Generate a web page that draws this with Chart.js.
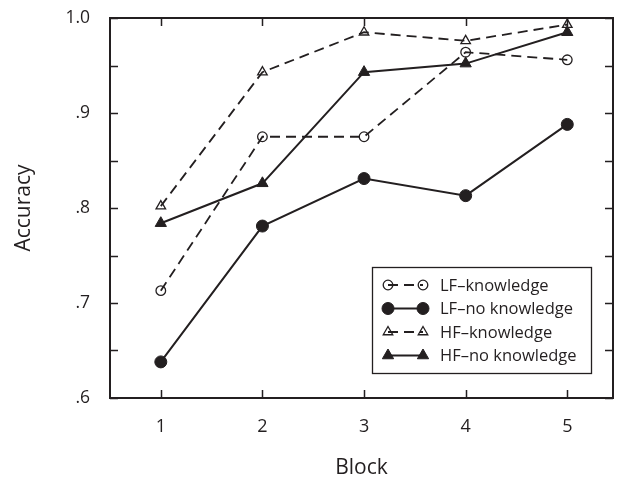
<!DOCTYPE html>
<html>
<head>
<meta charset="utf-8">
<script src="https://cdn.jsdelivr.net/npm/chart.js@4/dist/chart.umd.min.js"></script>
<style>
  html, body { margin: 0; padding: 0; background: #fff; }
</style>
</head>
<body>
<canvas id="myChart" width="622" height="479"></canvas>
<script>
// data
const blocks = [1, 2, 3, 4, 5];
const lfKnowledge = [0.713, 0.875, 0.875, 0.964, 0.956];
const lfNoKnowledge = [0.638, 0.781, 0.831, 0.813, 0.888];
const hfKnowledge = [0.802, 0.943, 0.985, 0.976, 0.993];
const hfNoKnowledge = [0.784, 0.826, 0.943, 0.952, 0.985];
const yTicks = [0.6, 0.65, 0.7, 0.75, 0.8, 0.85, 0.9, 0.95, 1.0];
const yTickLabels = ['.6', '.7', '.8', '.9', '1.0'];
const seriesNames = ['LF\u2013knowledge', 'LF\u2013no knowledge', 'HF\u2013knowledge', 'HF\u2013no knowledge'];

const FONT = "'Open Sans', 'DejaVu Sans', sans-serif";
const INK = '#231f20';

function makeSet(label, values, style, filled, dashed, radius) {
    return {
        label: label,
        data: blocks.map((b, i) => ({ x: b, y: values[i] })),
        borderColor: INK,
        borderWidth: dashed ? 1.8 : 2,
        borderDash: dashed ? [10, 6] : [],
        pointStyle: style,
        pointRadius: radius,
        pointBorderWidth: filled ? 1 : 1.3,
        pointBorderColor: INK,
        pointBackgroundColor: filled ? INK : 'rgba(0,0,0,0)',
        tension: 0,
        clip: false
    };
}

// box round the plot, with inward ticks on all four sides
const framePlugin = {
    id: 'frame',
    beforeDatasetsDraw(chart) {
        const { ctx, chartArea: a, scales } = chart;
        ctx.save();
        ctx.strokeStyle = INK;
        ctx.lineWidth = 1.5;
        ctx.beginPath();
        scales.x.ticks.forEach(t => {
            const px = Math.round(scales.x.getPixelForValue(t.value)) + 0.5;
            ctx.moveTo(px, a.bottom); ctx.lineTo(px, a.bottom - 8);
            ctx.moveTo(px, a.top); ctx.lineTo(px, a.top + 8);
        });
        scales.y.ticks.forEach(t => {
            const py = Math.round(scales.y.getPixelForValue(t.value)) + 0.5;
            ctx.moveTo(a.left, py); ctx.lineTo(a.left + 8, py);
            ctx.moveTo(a.right, py); ctx.lineTo(a.right - 8, py);
        });
        ctx.stroke();
        ctx.lineWidth = 2;
        ctx.strokeRect(a.left, a.top, a.right - a.left, a.bottom - a.top);
        ctx.restore();
    }
};

// legend drawn inside the plot, lower right
const legendPlugin = {
    id: 'insideLegend',
    afterDatasetsDraw(chart) {
        const { ctx } = chart;
        const box = { x: 372, y: 267, w: 219, h: 106 };
        ctx.save();
        ctx.fillStyle = '#fff';
        ctx.fillRect(box.x, box.y, box.w, box.h);
        ctx.strokeStyle = INK;
        ctx.lineWidth = 1.3;
        ctx.strokeRect(box.x + 0.5, box.y + 0.5, box.w, box.h);
        chart.data.datasets.forEach((ds, i) => {
            const y = box.y + 18 + i * 23.5;
            const x1 = box.x + 16, x2 = box.x + 51;
            ctx.strokeStyle = INK;
            ctx.lineWidth = ds.borderWidth;
            ctx.setLineDash(ds.borderDash);
            ctx.beginPath();
            ctx.moveTo(x1, y); ctx.lineTo(x2, y);
            ctx.stroke();
            ctx.setLineDash([]);
            ctx.fillStyle = ds.pointBackgroundColor;
            ctx.lineWidth = ds.pointBorderWidth;
            const opts = { pointStyle: ds.pointStyle, rotation: 0, radius: ds.pointRadius, borderWidth: ds.pointBorderWidth };
            Chart.helpers.drawPoint(ctx, opts, x1, y);
            Chart.helpers.drawPoint(ctx, opts, x2, y);
            ctx.fillStyle = INK;
            ctx.font = '16.5px ' + FONT;
            ctx.textBaseline = 'middle';
            ctx.fillText(ds.label, box.x + 68, y + 1);
        });
        ctx.restore();
    }
};

const ctx = document.getElementById('myChart').getContext('2d');
new Chart(ctx, {
    type: 'line',
    data: {
        datasets: [
            makeSet(seriesNames[0], lfKnowledge, 'circle', false, true, 4.8),
            makeSet(seriesNames[1], lfNoKnowledge, 'circle', true, false, 6),
            makeSet(seriesNames[2], hfKnowledge, 'triangle', false, true, 5.5),
            makeSet(seriesNames[3], hfNoKnowledge, 'triangle', true, false, 6.5)
        ]
    },
    options: {
        responsive: false,
        animation: false,
        layout: { padding: { top: 18, right: 9, left: 0, bottom: 0 } },
        plugins: { legend: { display: false }, tooltip: { enabled: false } },
        scales: {
            x: {
                type: 'linear',
                min: 0.5,
                max: 5.45,
                afterBuildTicks: s => { s.ticks = blocks.map(v => ({ value: v })); },
                afterFit: s => { s.height = 81; s.paddingLeft = 0; s.paddingRight = 0; },
                grid: { display: false, drawTicks: false },
                border: { display: false },
                ticks: { color: INK, font: { family: FONT, size: 18 }, padding: 18, callback: v => String(v) },
                title: { display: true, text: 'Block', color: INK, font: { family: FONT, size: 21, lineHeight: 1 }, padding: { top: 0, bottom: 0 } }
            },
            y: {
                min: 0.6,
                max: 1.0,
                afterBuildTicks: s => { s.ticks = yTicks.map(v => ({ value: v })); },
                afterFit: s => { s.width = 110; s.paddingTop = 0; s.paddingBottom = 0; },
                grid: { display: false, drawTicks: false },
                border: { display: false },
                ticks: {
                    color: INK,
                    font: { family: FONT, size: 17.5 },
                    padding: 20,
                    callback: (v, i) => (i % 2 === 0 ? yTickLabels[i / 2] : '')
                },
                title: { display: true, text: 'Accuracy', color: INK, font: { family: FONT, size: 21, lineHeight: 1 }, padding: { top: 13.5, bottom: 0 } }
            }
        }
    },
    plugins: [framePlugin, legendPlugin]
});
</script>
</body>
</html>
